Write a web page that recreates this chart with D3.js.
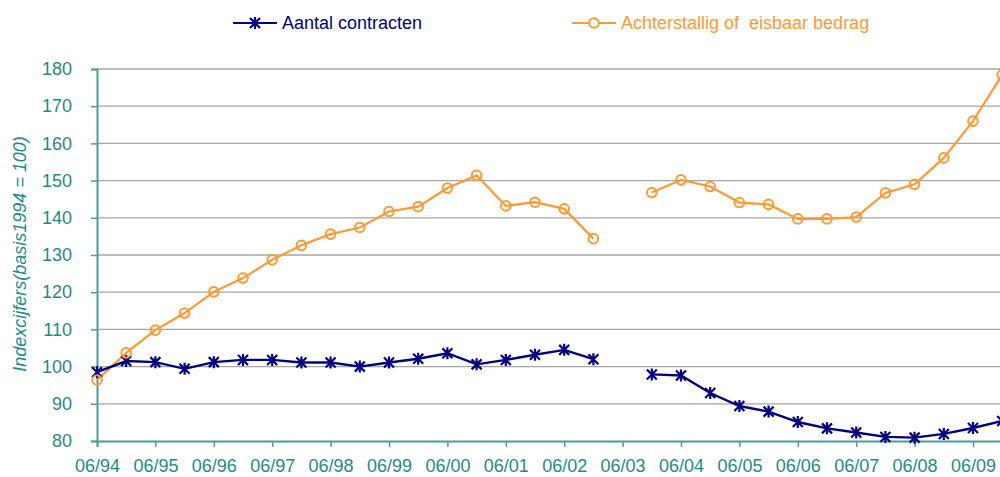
<!DOCTYPE html>
<html><head><meta charset="utf-8">
<script src="https://cdn.jsdelivr.net/npm/d3@7"></script>
<style>body{margin:0;background:#fff}svg{display:block;font-family:Arial,"Liberation Sans",sans-serif}</style>
</head><body><svg id="c" width="1000" height="477"></svg>
<script>
const periods = ["06/94","12/94","06/95","12/95","06/96","12/96","06/97","12/97","06/98","12/98","06/99","12/99","06/00","12/00","06/01","12/01","06/02","12/02","06/03","12/03","06/04","12/04","06/05","12/05","06/06","12/06","06/07","12/07","06/08","12/08","06/09","12/09"];
const tickLabels = ["06/94","06/95","06/96","06/97","06/98","06/99","06/00","06/01","06/02","06/03","06/04","06/05","06/06","06/07","06/08","06/09"];
const yTicks = [80,90,100,110,120,130,140,150,160,170,180];
const contracten = [98.5,101.5,101.2,99.4,101.2,101.8,101.8,101.1,101.1,100.0,101.1,102.1,103.6,100.6,101.8,103.2,104.5,102.0,null,97.9,97.6,92.9,89.4,87.9,85.1,83.4,82.3,81.1,80.9,81.9,83.5,85.4];
const bedrag = [96.4,103.7,109.8,114.4,120.1,123.8,128.7,132.6,135.6,137.4,141.7,143.0,148.0,151.4,143.2,144.2,142.4,134.4,null,146.8,150.2,148.4,144.1,143.6,139.7,139.7,140.2,146.7,149.0,156.1,166.0,178.4];
const seriesNames = ["Aantal contracten","Achterstallig of  eisbaar bedrag"];

const navy="#000080", orange="#FF9933", teal="#1f8a86", axisCol="#4a9e98", grid="#a6a6a6";
const svg=d3.select("#c");
const x=d3.scalePoint().domain(periods).range([97,97+29.2*31]);
const y=d3.scaleLinear().domain([80,180]).range([441,69]);

svg.append("g").selectAll("line").data(yTicks.filter(v=>v>80)).join("line")
 .attr("x1",97).attr("x2",1000).attr("y1",d=>y(d)).attr("y2",d=>y(d))
 .attr("stroke",grid).attr("stroke-width",1.3);

const ya=svg.append("g").attr("transform","translate(97,0)")
 .call(d3.axisLeft(y).tickValues(yTicks).tickSize(6).tickPadding(8).tickFormat(d3.format("d")));
ya.select(".domain").attr("stroke",axisCol).attr("stroke-width",2);
ya.selectAll(".tick line").attr("stroke",axisCol).attr("stroke-width",1.5);
ya.selectAll(".tick text").attr("fill",teal).style("font-size","18px").attr("x",-25);

const xa=svg.append("g").attr("transform","translate(0,441)")
 .call(d3.axisBottom(x).tickValues(tickLabels).tickSize(6).tickPadding(12));
xa.select(".domain").attr("stroke",axisCol).attr("stroke-width",2);
xa.selectAll(".tick line").attr("stroke",axisCol).attr("stroke-width",1.5);
xa.selectAll(".tick text").attr("fill",teal).style("font-size","18px");

svg.append("text").attr("transform","translate(26,254) rotate(-90)").attr("text-anchor","middle")
 .attr("fill",teal).style("font-size","18px").style("font-style","italic").text("Indexcijfers(basis1994 = 100)");

svg.append("clipPath").attr("id","pc").append("rect").attr("x",0).attr("y",0).attr("width",1000).attr("height",477);
const plot=svg.append("g").attr("clip-path","url(#pc)");
const line=d3.line().defined(d=>d.v!=null).x(d=>x(d.p)).y(d=>y(d.v));
const mk=arr=>periods.map((p,i)=>({p,v:arr[i]}));

function star(g,cx,cy,s){
  g.append("path").attr("d",`M${cx-s},${cy-s}L${cx+s},${cy+s}M${cx-s},${cy+s}L${cx+s},${cy-s}M${cx},${cy-s-1}L${cx},${cy+s+1}`)
   .attr("stroke",navy).attr("stroke-width",2.2).attr("fill","none");
}
plot.append("path").datum(mk(bedrag)).attr("d",line).attr("fill","none").attr("stroke",orange).attr("stroke-width",2.2);
plot.append("path").datum(mk(contracten)).attr("d",line).attr("fill","none").attr("stroke",navy).attr("stroke-width",2.4);
mk(contracten).filter(d=>d.v!=null).forEach(d=>star(plot,x(d.p),y(d.v),5));
plot.selectAll("circle.o").data(mk(bedrag).filter(d=>d.v!=null)).join("circle")
 .attr("cx",d=>x(d.p)).attr("cy",d=>y(d.v)).attr("r",4.8).attr("fill","none").attr("stroke",orange).attr("stroke-width",2);

const lg=svg.append("g");
lg.append("line").attr("x1",233).attr("x2",277).attr("y1",23).attr("y2",23).attr("stroke",navy).attr("stroke-width",2.2);
star(lg,255,23,5);
lg.append("text").attr("x",282).attr("y",29).attr("fill",navy).style("font-size","18px").text(seriesNames[0]);
lg.append("line").attr("x1",572).attr("x2",616).attr("y1",23).attr("y2",23).attr("stroke",orange).attr("stroke-width",2.2);
lg.append("circle").attr("cx",594).attr("cy",23).attr("r",4.8).attr("fill","#fff").attr("stroke",orange).attr("stroke-width",2);
lg.append("text").attr("x",621).attr("y",29).attr("fill",orange).style("font-size","18px").style("white-space","pre").attr("xml:space","preserve").text(seriesNames[1]);
</script></body></html>
